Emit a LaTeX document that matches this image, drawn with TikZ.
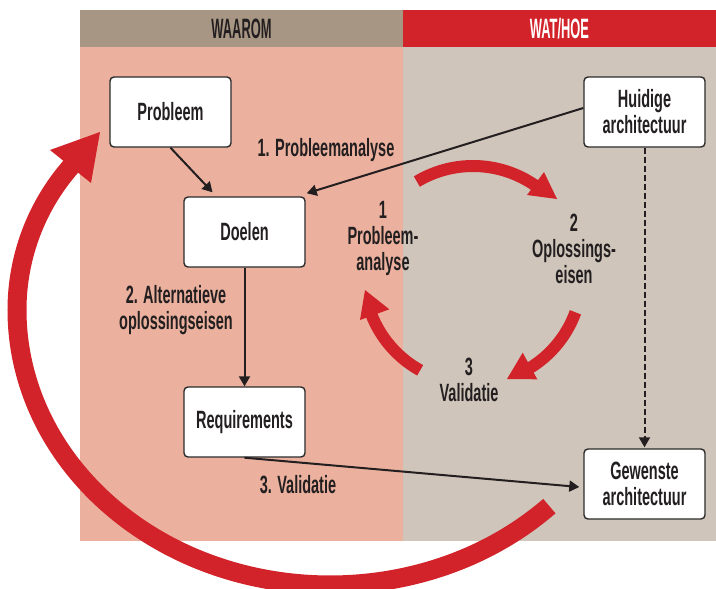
\documentclass[tikz,border=0pt]{standalone}
\usepackage{fontspec}
\setmainfont{Liberation Sans}[FakeStretch=0.58]
\newfontfamily\hdrfont{Liberation Sans}[FakeStretch=0.46]
\usetikzlibrary{arrows.meta}
\definecolor{hdrLc}{HTML}{A79683}
\definecolor{redc}{HTML}{D2232A}
\definecolor{bodyLc}{HTML}{EBB19E}
\definecolor{bodyRc}{HTML}{CFC5BA}
\definecolor{inkc}{HTML}{231F20}
\definecolor{boxline}{HTML}{2B2B2B}
\tikzset{
  boxnode/.style={draw=boxline, line width=1.4pt, fill=white, rounded corners=4pt,
    minimum width=121pt, minimum height=70pt, inner sep=0pt, align=center,
    text=inkc, font=\fontsize{25}{26}\selectfont\bfseries},
  lbl/.style={inner sep=0pt, align=center, text=inkc, font=\fontsize{25}{26}\selectfont\bfseries},
  hdr/.style={inner sep=0pt, font=\hdrfont\fontsize{28}{30}\selectfont\bfseries},
  blk/.style={draw=inkc, line width=2pt, -{Triangle[length=10pt,width=11pt]}},
  redline/.style={draw=redc, line cap=butt},
}
\begin{document}
\begin{tikzpicture}[x=1pt,y=-1pt]
\useasboundingbox (0,0) rectangle (716,589);
% panels
\fill[hdrLc] (80,10) rectangle (403,47);
\fill[redc] (403,10) rectangle (716,47);
\fill[bodyLc] (80,47) rectangle (403,541);
\fill[bodyRc] (403,47) rectangle (716,541);
\node[hdr, text=inkc] (hL) at (241.5,29) {WAAROM};
\node[hdr, text=white] (hR) at (559.5,29) {WAT/HOE};
% big red return arrow
\draw[redline, line width=19pt] (330,310) ++(45.5:313 and 275)
  arc[start angle=45.5, end angle=180, x radius=313, y radius=275]
  arc[start angle=180, end angle=222, radius=218];
\fill[redc] (100,132) -- (50,150) -- (91,183) -- cycle;
% boxes
\node[boxnode] (Probleem) at (170.5,112) {Probleem};
\node[boxnode] (Huidige) at (644.5,112) {Huidige\\architectuur};
\node[boxnode] (Doelen) at (244.5,232) {Doelen};
\node[boxnode] (Req) at (244.5,422) {Requirements};
\node[boxnode] (Gewenste) at (644.5,484) {Gewenste\\architectuur};
% connectors
\draw[blk] (Probleem.south) -- ([xshift=-32pt,yshift=4pt]Doelen.north);
\draw[blk] ([yshift=4pt]Huidige.west) -- ([xshift=1pt,yshift=3pt]Doelen.north east);
\draw[blk] (Doelen.south) -- (Req.north);
\draw[blk] (Req.south) -- ([xshift=-4pt,yshift=-3pt]Gewenste.west);
\draw[blk, dash pattern=on 6pt off 3pt] (Huidige.south) -- ([yshift=1pt]Gewenste.north);
% labels
\node[lbl, anchor=base] (l1) at (326,156.5) {1. Probleemanalyse};
\node[lbl] (l2) at (176,310) {2. Alternatieve\\oplossingseisen};
\node[lbl, anchor=base] (l3) at (298,493) {3. Validatie};
\node[lbl] (c1) at (383,238) {1\\Probleem-\\analyse};
\node[lbl] (c2) at (574,249) {2\\Oplossings-\\eisen};
\node[lbl] (c3) at (469,380) {3\\Validatie};
% cycle arrows
\draw[redline, line width=12pt] (473,275) ++(-121:109) arc[start angle=-121, end angle=-55, radius=109];
\fill[redc] (557,199) -- (544,172) -- (527,195) -- cycle;
\draw[redline, line width=12pt] (473,275) ++(20:109) arc[start angle=20, end angle=59, radius=109];
\fill[redc] (507,379) -- (522.7,352.7) -- (537.3,379.3) -- cycle;
\draw[redline, line width=12pt] (473,275) ++(119:109) arc[start angle=119, end angle=159, radius=109];
\fill[redc] (365,290) -- (360,320) -- (389.3,309.3) -- cycle;
\end{tikzpicture}
\end{document}
